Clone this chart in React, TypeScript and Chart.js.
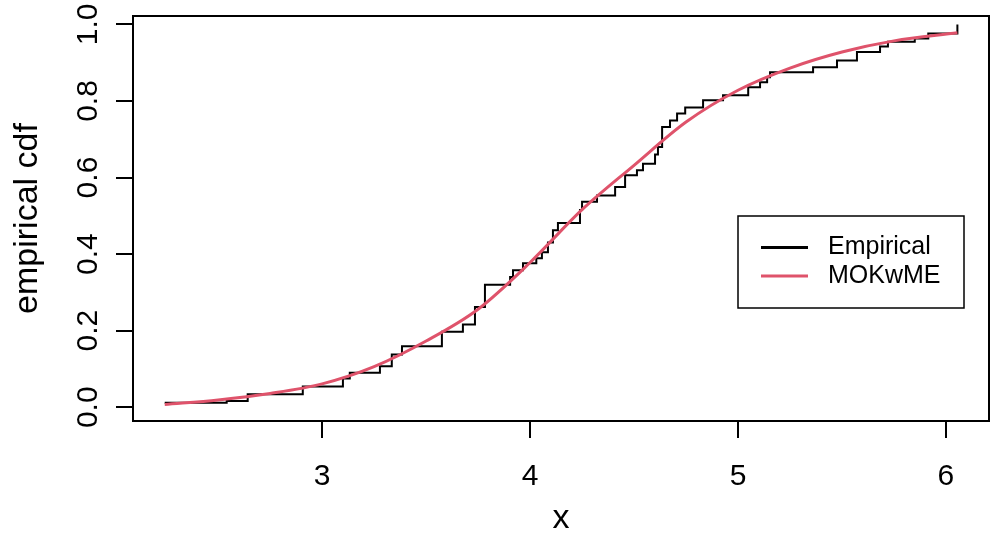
import React, { useEffect, useRef } from "react";
import { Chart, registerables } from "chart.js";

Chart.register(...registerables);

// ---- data ----
const xTickValues = [3, 4, 5, 6];
const xTickLabels = ["3", "4", "5", "6"];
const yTickValues = [0, 0.2, 0.4, 0.6, 0.8, 1.0];
const yTickLabels = ["0.0", "0.2", "0.4", "0.6", "0.8", "1.0"];

const ecdfX = [
  2.243, 2.541, 2.642, 2.907, 3.1, 3.133, 3.278, 3.335, 3.384, 3.576, 3.677, 3.735,
  3.783, 3.904, 3.918, 3.966, 4.03, 4.057, 4.086, 4.11, 4.134, 4.24, 4.25, 4.322,
  4.409, 4.457, 4.514, 4.543, 4.601, 4.615, 4.635, 4.673, 4.707, 4.746, 4.832, 4.928,
  5.049, 5.106, 5.14, 5.154, 5.361, 5.476, 5.572, 5.683, 5.721, 5.85, 5.915, 6.055,
];
const ecdfY = [
  0.012, 0.016, 0.034, 0.054, 0.075, 0.09, 0.107, 0.138, 0.159, 0.197, 0.216, 0.262,
  0.32, 0.34, 0.358, 0.376, 0.389, 0.405, 0.43, 0.462, 0.481, 0.515, 0.537, 0.553,
  0.575, 0.606, 0.619, 0.636, 0.66, 0.68, 0.732, 0.749, 0.767, 0.783, 0.802, 0.815,
  0.836, 0.849, 0.862, 0.875, 0.888, 0.906, 0.928, 0.942, 0.955, 0.963, 0.976, 1.0,
];

const fitX = [
  2.243, 2.5, 2.75, 3.0, 3.25, 3.5, 3.75, 4.0, 4.25, 4.5, 4.75, 5.0, 5.25, 5.5, 5.75, 6.055,
];
const fitY = [
  0.007, 0.019, 0.036, 0.061, 0.106, 0.173, 0.256, 0.378, 0.516, 0.632, 0.745, 0.828,
  0.886, 0.928, 0.957, 0.978,
];

const seriesLabels = ["Empirical", "MOKwME"];
const seriesColors = ["#000000", "#DF536B"];
const axisTitles = { x: "x", y: "empirical cdf" };

const FONT = "'Liberation Sans', Arial, sans-serif";

const boxPlugin = {
  id: "rbox",
  afterDraw(chart: any) {
    const { ctx, chartArea } = chart;
    const yScale = chart.scales.y;
    ctx.save();
    ctx.strokeStyle = "#000";
    ctx.lineWidth = 2;
    ctx.strokeRect(chartArea.left, chartArea.top, chartArea.right - chartArea.left, chartArea.bottom - chartArea.top);

    // rotated y tick labels
    ctx.fillStyle = "#000";
    ctx.font = `30px ${FONT}`;
    ctx.textAlign = "center";
    ctx.textBaseline = "alphabetic";
    yTickValues.forEach((v, i) => {
      const py = yScale.getPixelForValue(v);
      ctx.save();
      ctx.translate(97, py);
      ctx.rotate(-Math.PI / 2);
      ctx.fillText(yTickLabels[i], 0, 0);
      ctx.restore();
    });

    // legend
    const lx = 738, ly = 216, lw = 226, lh = 92;
    ctx.lineWidth = 1.5;
    ctx.strokeStyle = "#000";
    ctx.strokeRect(lx, ly, lw, lh);
    const rows = [247.5, 276];
    ctx.font = `25px ${FONT}`;
    ctx.textAlign = "left";
    ctx.textBaseline = "middle";
    chart.data.datasets.forEach((ds: any, i: number) => {
      const yy = rows[i];
      ctx.strokeStyle = ds.borderColor;
      ctx.lineWidth = 3;
      ctx.beginPath();
      ctx.moveTo(761, yy);
      ctx.lineTo(808, yy);
      ctx.stroke();
      ctx.fillStyle = "#000";
      ctx.fillText(ds.label, 828, yy);
    });
    ctx.restore();
  },
};

export default function App() {
  const ref = useRef<HTMLCanvasElement | null>(null);

  useEffect(() => {
    if (!ref.current) return;
    const chart = new Chart(ref.current, {
      type: "line",
      data: {
        datasets: [
          {
            label: seriesLabels[0],
            data: ecdfX.map((x, i) => ({ x, y: ecdfY[i] })),
            borderColor: seriesColors[0],
            borderWidth: 2,
            pointRadius: 0,
            stepped: "before",
            fill: false,
            order: 1,
          },
          {
            label: seriesLabels[1],
            data: fitX.map((x, i) => ({ x, y: fitY[i] })),
            borderColor: seriesColors[1],
            borderWidth: 3,
            pointRadius: 0,
            cubicInterpolationMode: "monotone",
            fill: false,
            order: 0,
          },
        ],
      },
      options: {
        responsive: false,
        animation: false,
        devicePixelRatio: 1,
        layout: { padding: { left: 0, top: 16, right: 7, bottom: 0 } },
        plugins: { legend: { display: false }, tooltip: { enabled: false } },
        scales: {
          x: {
            type: "linear",
            min: 2.0905,
            max: 6.207,
            afterBuildTicks: (s: any) => {
              s.ticks = xTickValues.map((v) => ({ value: v }));
            },
            afterFit: (s: any) => {
              s.height = 114;
            },
            ticks: {
              callback: (v: any) => {
                const i = xTickValues.indexOf(Number(v));
                return i >= 0 ? xTickLabels[i] : "";
              },
              font: { size: 30, family: FONT },
              color: "#000",
              padding: 21,
              maxRotation: 0,
              autoSkip: false,
            },
            grid: { drawOnChartArea: false, drawTicks: true, tickLength: 17, color: "#000", lineWidth: 2 },
            border: { display: true, color: "#000", width: 2 },
            title: {
              display: true,
              text: axisTitles.x,
              font: { size: 34, family: FONT, lineHeight: 1 },
              color: "#000",
              padding: { top: 0, bottom: -1 },
            },
          },
          y: {
            type: "linear",
            min: -0.036,
            max: 1.022,
            afterBuildTicks: (s: any) => {
              s.ticks = yTickValues.map((v) => ({ value: v }));
            },
            afterFit: (s: any) => {
              s.width = 133;
            },
            ticks: { display: false },
            grid: { drawOnChartArea: false, drawTicks: true, tickLength: 17, color: "#000", lineWidth: 2 },
            border: { display: true, color: "#000", width: 2 },
            title: {
              display: true,
              text: axisTitles.y,
              font: { size: 34, family: FONT, lineHeight: 1 },
              color: "#000",
              padding: { top: 10.5, bottom: 0 },
            },
          },
        },
      },
      plugins: [boxPlugin],
    } as any);
    return () => chart.destroy();
  }, []);

  return (
    <div style={{ position: "absolute", left: 0, top: 0, width: 996, height: 535, background: "#fff" }}>
      <canvas ref={ref} width={996} height={535} style={{ display: "block" }} />
    </div>
  );
}
